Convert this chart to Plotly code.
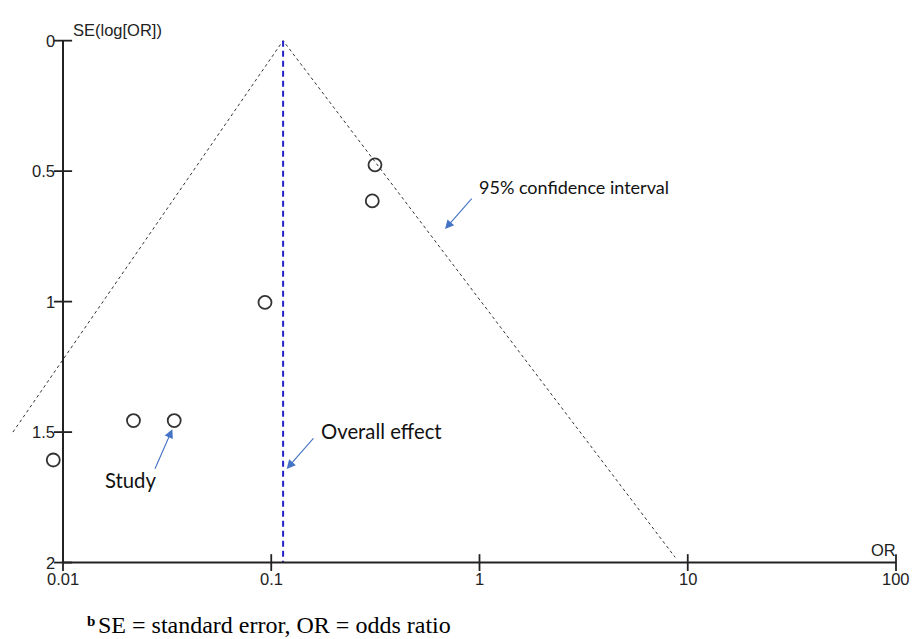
import math
import plotly.graph_objects as go

# ---------------- data ----------------
study_or = [0.00898, 0.0218, 0.0342, 0.0933, 0.3056, 0.3148]
study_se = [1.607, 1.456, 1.456, 1.003, 0.614, 0.476]

pooled_or = 0.114
pooled_se = [0, 2]

ci_or = [0.00575, 0.114, 8.7]
ci_se = [1.5, 0, 1.98]

x_ticks = [0.01, 0.1, 1, 10, 100]
x_tick_labels = ["0.01", "0.1", "1", "10", "100"]
y_ticks = [0, 0.5, 1, 1.5, 2]
y_tick_labels = ["0", "0.5", "1", "1.5", "2"]

x_title = "OR"
y_title = "SE(log[OR])"
footnote_mark = "b"
footnote = "SE = standard error, OR = odds ratio"

# label anchors (data space)
ci_label = ("95% confidence interval", 0.9696, 0.56, 18)
ci_arrow = (0.683, 0.722)
effect_label = ("Overall effect", 0.1696, 1.496, 20.3)
effect_arrow = (0.1186, 1.641)
study_label = ("Study", 0.01556, 1.684, 20.3)
study_arrow = (0.0335, 1.489)

# ---------------- figure ----------------
AX = "#222222"
ARROW = "#4472C4"
SANS = "Liberation Sans, Arial, sans-serif"
CAL = "Lato, Carlito, Calibri, sans-serif"
SERIF = "Liberation Serif, Times New Roman, serif"

fig = go.Figure()

# funnel (95% CI) lines
fig.add_trace(go.Scatter(x=ci_or, y=ci_se, mode="lines",
                         line=dict(color="#333333", width=1, dash="3px,3px"),
                         hoverinfo="skip"))
# overall effect line
fig.add_trace(go.Scatter(x=[pooled_or, pooled_or], y=pooled_se, mode="lines",
                         line=dict(color="#2323C8", width=2, dash="6px,4px"),
                         hoverinfo="skip"))
# axes lines
fig.add_trace(go.Scatter(x=[x_ticks[0], x_ticks[0]], y=[y_ticks[0], y_ticks[-1]],
                         mode="lines", line=dict(color=AX, width=2), hoverinfo="skip"))
fig.add_trace(go.Scatter(x=[x_ticks[0], x_ticks[-1]], y=[y_ticks[-1], y_ticks[-1]],
                         mode="lines", line=dict(color=AX, width=2), hoverinfo="skip"))
# tick marks
fig.add_trace(go.Scatter(x=[x_ticks[0]] * len(y_ticks), y=y_ticks, mode="markers",
                         marker=dict(symbol="line-ew", size=13, color=AX,
                                     line=dict(color=AX, width=1.8)),
                         cliponaxis=False, hoverinfo="skip"))
fig.add_trace(go.Scatter(x=x_ticks, y=[y_ticks[-1]] * len(x_ticks), mode="markers",
                         marker=dict(symbol="line-ns", size=12, color=AX,
                                     line=dict(color=AX, width=1.8)),
                         cliponaxis=False, hoverinfo="skip"))
# studies
fig.add_trace(go.Scatter(x=study_or, y=study_se, mode="markers",
                         marker=dict(symbol="circle-open", size=13, color="#333333",
                                     line=dict(color="#333333", width=1.8)),
                         cliponaxis=False, hoverinfo="skip"))

ann = []
for v, t in zip(y_ticks, y_tick_labels):
    ann.append(dict(x=math.log10(x_ticks[0]), y=v, text=t, showarrow=False,
                    xanchor="right", yanchor="middle", xshift=-6,
                    font=dict(family=SANS, size=16.5, color=AX)))
for v, t in zip(x_ticks, x_tick_labels):
    ann.append(dict(x=math.log10(v), y=y_ticks[-1], text=t, showarrow=False,
                    xanchor="center", yanchor="middle", yshift=-16,
                    font=dict(family=SANS, size=16.5, color=AX)))
ann.append(dict(x=math.log10(x_ticks[0]), y=y_ticks[0], text=y_title, showarrow=False,
                xanchor="left", yanchor="middle", xshift=8, yshift=11,
                font=dict(family=SANS, size=16.5, color=AX)))
ann.append(dict(x=math.log10(x_ticks[-1]), y=y_ticks[-1], text=x_title, showarrow=False,
                xanchor="right", yanchor="middle", xshift=2, yshift=13,
                font=dict(family=SANS, size=16.5, color=AX)))

for (txt, lx, ly, fs) in [ci_label, effect_label, study_label]:
    ann.append(dict(x=math.log10(lx), y=ly, text=txt, showarrow=False,
                    xanchor="left", yanchor="middle",
                    font=dict(family=CAL, size=fs, color="#111111")))

for (hx, hy), (dx, dy) in [(ci_arrow, (28, -32)), (effect_arrow, (28, -32)),
                           (study_arrow, (-18, 41))]:
    ann.append(dict(x=math.log10(hx), y=hy, text="", showarrow=True,
                    ax=dx, ay=dy, axref="pixel", ayref="pixel",
                    arrowhead=2, arrowsize=1.6, arrowwidth=1.1, arrowcolor=ARROW))

ann.append(dict(xref="paper", yref="paper", x=0.0889, y=-0.0870, text="<b>%s</b>" % footnote_mark,
                showarrow=False, xanchor="left", yanchor="middle",
                font=dict(family=SERIF, size=15, color="#000000")))
ann.append(dict(xref="paper", yref="paper", x=0.1026, y=-0.1204, text=footnote,
                showarrow=False, xanchor="left", yanchor="bottom", borderpad=0,
                font=dict(family=SERIF, size=24, color="#000000")))

fig.update_layout(
    width=914, height=639,
    margin=dict(l=5, r=9, t=25, b=66),
    paper_bgcolor="white", plot_bgcolor="white",
    showlegend=False,
    annotations=ann,
    xaxis=dict(type="log", range=[-2.2785, 2.0432], showgrid=False, zeroline=False,
               showline=False, showticklabels=False, ticks=""),
    yaxis=dict(range=[2.04, -0.06], showgrid=False, zeroline=False,
               showline=False, showticklabels=False, ticks=""),
)

fig.write_html(
    "out.html",
    config={"displayModeBar": False},
    post_script="document.body.style.margin='0';document.body.style.padding='0';"
                "document.documentElement.style.overflow='hidden';",
)
